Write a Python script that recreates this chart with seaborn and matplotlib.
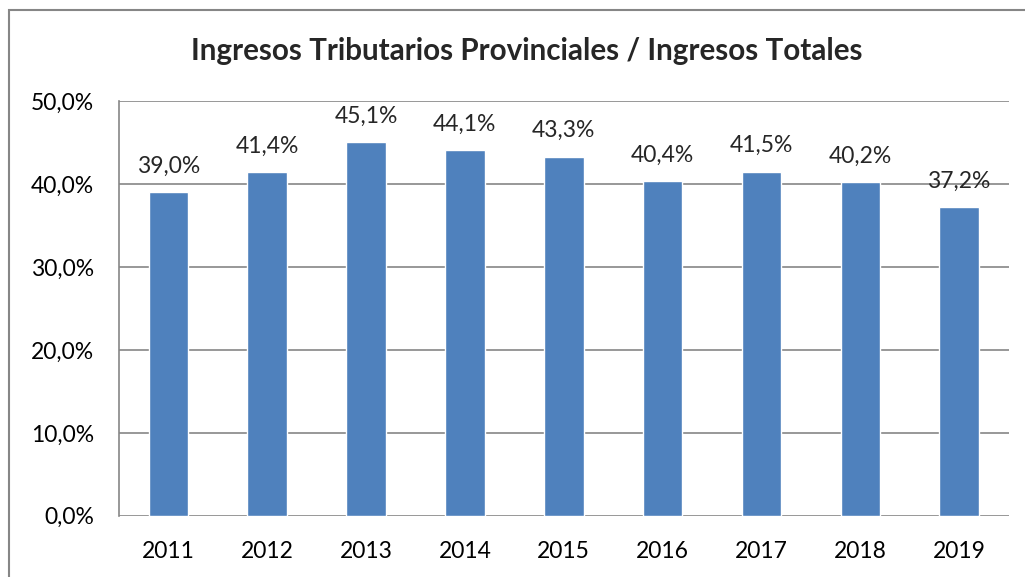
import matplotlib
matplotlib.use('Agg')
import matplotlib.pyplot as plt
import seaborn as sns
import pandas as pd
from matplotlib.patches import Rectangle

# data
years = ['2011', '2012', '2013', '2014', '2015', '2016', '2017', '2018', '2019']
share = [39.0, 41.4, 45.1, 44.1, 43.3, 40.4, 41.5, 40.2, 37.2]
yticks = [0, 10, 20, 30, 40, 50]

df = pd.DataFrame({'anio': years, 'pct': share})

sns.set_style('white')
plt.rcParams['font.family'] = ['Lato', 'DejaVu Sans']

fig = plt.figure(figsize=(10.25, 5.77), dpi=100)
ax = fig.add_axes([0.116, 0.106, 0.868, 0.719])

grid_col = '#868686'
sns.barplot(data=df, x='anio', y='pct', color='#4F81BD', width=0.40,
            saturation=1, ax=ax, zorder=3)

ax.set_ylim(0, 50)
ax.set_yticks(yticks)
ax.set_yticklabels([f'{v:.1f}%'.replace('.', ',') for v in yticks])
ax.yaxis.grid(True, color=grid_col, linewidth=1.2, zorder=0)
ax.set_axisbelow(True)
ax.set_xlim(-0.5, len(years) - 0.5)
ax.set_xlabel('')
ax.set_ylabel('')
ax.tick_params(axis='both', length=0, labelsize=16.5, colors='black')
ax.tick_params(axis='y', pad=18)
ax.tick_params(axis='x', pad=18)

for s in ['top', 'right', 'bottom']:
    ax.spines[s].set_visible(False)
ax.spines['left'].set_color(grid_col)
ax.spines['left'].set_linewidth(1.2)

for i, v in enumerate(share):
    ax.annotate(f'{v:.1f}%'.replace('.', ','), (i, v), xytext=(0, 11),
                textcoords='offset points', ha='center', va='bottom',
                fontsize=16.5, zorder=5)

fig.text(0.514, 0.912, 'Ingresos Tributarios Provinciales / Ingresos Totales',
         ha='center', va='center', fontsize=21.3, fontweight='bold')

# outer chart border (cut off at right and bottom)
fig.patches.append(Rectangle((9 / 1025, -0.2), 1.5, 1.2 - 10 / 577,
                             transform=fig.transFigure, fill=False,
                             edgecolor=grid_col, linewidth=1.5))

fig.savefig('out.png', dpi=100)
